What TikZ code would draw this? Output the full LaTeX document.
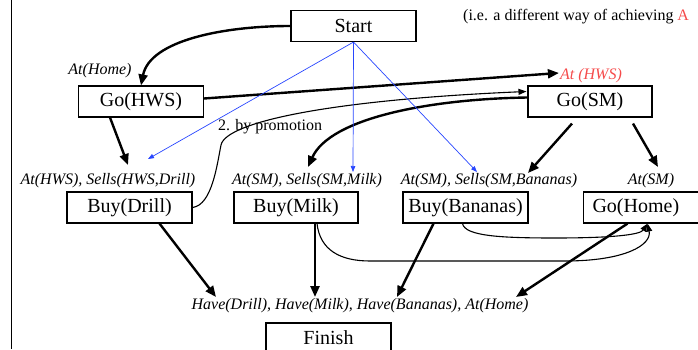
\documentclass[tikz,border=0pt]{standalone}
\usepackage{fontspec}
\setmainfont{Liberation Serif}
\usetikzlibrary{arrows.meta,calc}

\definecolor{promoblue}{RGB}{40,70,255}
\definecolor{notered}{RGB}{245,75,75}

\begin{document}
\begin{tikzpicture}[x=1pt,y=1pt,yscale=-1,
  act/.style={draw,line width=1.1pt,inner sep=0pt,minimum width=125pt,minimum height=31pt,font=\fontsize{20}{24}\selectfont},
  cond/.style={inner sep=0pt,font=\fontsize{16}{19}\selectfont\itshape},
  link/.style={line width=2.4pt,-{Triangle[length=11pt,width=9pt]}},
  thread/.style={line width=1.1pt,-{Triangle[length=8pt,width=6pt]}},
  order/.style={promoblue,line width=0.7pt,-{Triangle[length=6pt,width=4.5pt]}}]
%set diagram size 698 x 350
\clip (0,0) rectangle (698,350);

%Straight Lines: left margin rule
\draw [line width=1.6pt] (11.5,0) -- (11.5,349);

%Shape: Rectangle (actions)
\draw (353.5,26) node [act] (start) {Start};
\draw (141,101.5) node [act] (gohws) {Go(HWS)};
\draw (590,101.5) node [act,minimum width=124pt] (gosm) {Go(SM)};
\draw (129.5,207.5) node [act] (buydrill) {Buy(Drill)};
\draw (296,207.5) node [act,minimum width=124pt] (buymilk) {Buy(Milk)};
\draw (465.5,207.5) node [act] (buybananas) {Buy(Bananas)};
\draw (583,207.5) node [act,anchor=west,text width=110pt,align=left,inner xsep=9pt] (gohome) {Go(Home)};
\draw (328.5,338) node [act,minimum height=30pt] (finish) {Finish};

% Text Node
\draw (100,71) node [cond] (athome) {At(Home)};
% Text Node
\draw (591,76) node [cond,text=notered] (athws) {At (HWS)};
% Text Node
\draw (108,181) node [cond] (lbldrill) {At(HWS), Sells(HWS,Drill)};
% Text Node
\draw (307,181) node [cond] (lblmilk) {At(SM), Sells(SM,Milk)};
% Text Node
\draw (489,181) node [cond] (lblbananas) {At(SM), Sells(SM,Bananas)};
% Text Node
\draw (651,181) node [cond] (lblsm) {At(SM)};
% Text Node
\draw (360,306) node [cond] (goal) {Have(Drill), Have(Milk), Have(Bananas), At(Home)};
% Text Node
\draw (270,126.5) node [inner sep=0pt,font=\fontsize{16}{19}\selectfont] (promo) {2. by promotion};
% Text Node
\draw (463,21) node [anchor=base west,inner sep=0pt,font=\fontsize{16}{19}\selectfont] (note) {(i.e. a different way of achieving \textcolor{notered}{A}};

%arrow ends
\coordinate (tiphws) at (128,165);
\coordinate (tipmilk) at (308,167);
\coordinate (tipbananas) at (528,173);
\coordinate (tipsm) at (658,167);
\coordinate (bluedrill) at (148,159);
\coordinate (bluemilk) at (353,172);
\coordinate (bluebananas) at (477,172);
\coordinate (havedrill) at (216,297);
\coordinate (havemilk) at (315,297);
\coordinate (havebananas) at (397,297);
\coordinate (havehome) at (516,297);

%Curve Lines
\draw [link] (start.west) .. controls (225,26) and (150,40) .. (gohws.north);
%Straight Lines
\draw [link] ($(gohws.east)+(0,-3)$) -- ($(athws.west)+(-1,-3)$);
%Curve Lines
\draw [thread] (buydrill.east) .. controls (212,205) and (217,165) .. (221,145) .. controls (226,122) and (330,100) .. ($(gosm.west)+(-1,-10)$);
%Curve Lines
\draw [link] ($(gosm.west)+(0,-4)$) .. controls (430,99) and (330,118) .. (tipmilk);
%Straight Lines
\draw [link] ($(gohws.south)+(-31,0)$) -- (tiphws);
\draw [link] ($(gosm.south)+(-18,6)$) -- (tipbananas);
\draw [link] ($(gosm.south)+(43,6)$) -- (tipsm);

%Straight Lines (blue)
\draw [order] (start.south) -- (bluedrill);
\draw [order] (start.south) -- (bluemilk);
\draw [order] (start.south) -- (bluebananas);

%Straight Lines to goal
\draw [link] ($(buydrill.south)+(30,0)$) -- (havedrill);
\draw [link] ($(buymilk.south)+(19,0)$) -- (havemilk);
\draw [link] ($(buybananas.south)+(-32,0)$) -- (havebananas);
\draw [link] ($(gohome.south)+(-20,0)$) -- (havehome);

%Curve Lines to Go(Home)
\draw [thread] ($(buymilk.south)+(21,0)$) .. controls (320,250) and (340,261) .. (370,261) -- (565,261) .. controls (625,261) and (652,245) .. (gohome.south);
\draw [thread] ($(buybananas.south)+(-3,0)$) .. controls (465,236) and (500,238) .. (555,238) .. controls (610,238) and (640,235) .. (gohome.south);

\end{tikzpicture}
\end{document}
